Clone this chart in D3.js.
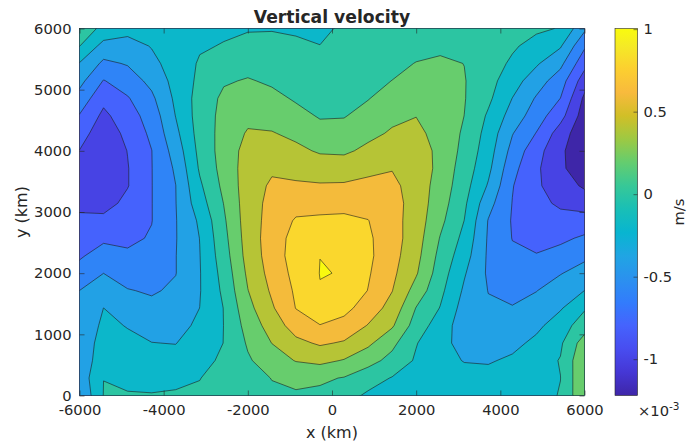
<!DOCTYPE html>
<html>
<head>
<meta charset="utf-8">
<title>Vertical velocity</title>
<style>
  body { margin: 0; background: #fff; }
  text { font-family: "DejaVu Sans", sans-serif; fill: #262626; }
</style>
</head>
<body>
<svg id="chart" width="687" height="444"></svg>
<script src="https://d3js.org/d3.v7.min.js"></script>
<script>

// grid (km)
var xs = [-6000, -5428.6, -4857.1, -4285.7, -3714.3, -3142.9, -2571.4, -2000, -1428.6, -857.1, -285.7,
	285.7, 857.1, 1428.6, 2000, 2571.4, 3142.9, 3714.3, 4285.7, 4857.1, 5428.6, 6000];
var ys = [0, 285.7, 571.4, 857.1, 1142.9, 1428.6, 1714.3, 2000, 2285.7, 2571.4, 2857.1,
	3142.9, 3428.6, 3714.3, 4000, 4285.7, 4571.4, 4857.1, 5142.9, 5428.6, 5714.3, 6000];

// vertical velocity in 1e-3 m/s, one row per y, listed from y = 6000 (top) down to y = 0
var w = [
	[0.12, -0.05, -0.14, -0.08, -0.08, -0.05, -0.03, -0.015, -0.01, -0.02, -0.04, 0.03, 0.06, 0.08, 0.10, 0.10, 0.08, 0.06, 0.05, 0.03, -0.01, -0.36],
	[0.005, -0.27, -0.27, -0.19, -0.11, -0.02, 0.01, 0.055, 0.05, 0.026, 0.003, 0.062, 0.093, 0.12, 0.152, 0.163, 0.13, 0.07, 0.025, -0.063, -0.18, -0.57],
	[-0.21, -0.44, -0.385, -0.25, -0.115, 0.02, 0.11, 0.133, 0.112, 0.078, 0.047, 0.094, 0.126, 0.16, 0.205, 0.23, 0.198, 0.088, -0.03, -0.176, -0.35, -0.733],
	[-0.34, -0.61, -0.5, -0.347, -0.13, 0.042, 0.18, 0.215, 0.173, 0.129, 0.092, 0.126, 0.159, 0.202, 0.269, 0.26, 0.21, 0.072, -0.117, -0.306, -0.507, -0.907],
	[-0.477, -0.748, -0.617, -0.44, -0.16, 0.08, 0.24, 0.279, 0.249, 0.18, 0.137, 0.158, 0.192, 0.283, 0.333, 0.31, 0.21, 0.04, -0.203, -0.42, -0.602, -1.04],
	[-0.613, -0.845, -0.69, -0.515, -0.195, 0.088, 0.26, 0.347, 0.333, 0.256, 0.185, 0.19, 0.267, 0.362, 0.396, 0.32, 0.199, -0.028, -0.283, -0.505, -0.73, -1.1],
	[-0.707, -0.93, -0.745, -0.56, -0.25, 0.079, 0.272, 0.42, 0.41, 0.36, 0.264, 0.27, 0.356, 0.42, 0.45, 0.326, 0.173, -0.074, -0.39, -0.608, -0.896, -1.15],
	[-0.805, -0.96, -0.795, -0.603, -0.315, 0.056, 0.285, 0.47, 0.495, 0.44, 0.38, 0.37, 0.44, 0.516, 0.52, 0.339, 0.147, -0.11, -0.465, -0.73, -0.947, -1.22],
	[-0.9, -0.97, -0.81, -0.605, -0.371, 0.024, 0.275, 0.49, 0.572, 0.533, 0.495, 0.497, 0.555, 0.59, 0.55, 0.332, 0.113, -0.152, -0.538, -0.77, -0.944, -1.19],
	[-0.9, -0.97, -0.81, -0.605, -0.402, -0.032, 0.248, 0.5, 0.63, 0.628, 0.62, 0.624, 0.646, 0.65, 0.508, 0.32, 0.077, -0.22, -0.59, -0.77, -0.903, -1.03],
	[-0.84, -0.88, -0.745, -0.605, -0.405, -0.089, 0.205, 0.504, 0.66, 0.728, 0.741, 0.742, 0.731, 0.68, 0.513, 0.29, 0.037, -0.33, -0.605, -0.747, -0.83, -0.884],
	[-0.765, -0.745, -0.7, -0.605, -0.41, -0.168, 0.17, 0.501, 0.676, 0.82, 0.83, 0.84, 0.805, 0.675, 0.506, 0.248, -0.002, -0.41, -0.615, -0.75, -0.74, -0.717],
	[-0.695, -0.634, -0.64, -0.583, -0.41, -0.197, 0.14, 0.49, 0.699, 0.87, 0.93, 0.9, 0.83, 0.688, 0.49, 0.19, -0.055, -0.423, -0.605, -0.69, -0.64, -0.57],
	[-0.625, -0.518, -0.569, -0.54, -0.405, -0.205, 0.108, 0.473, 0.695, 0.89, 0.999, 0.97, 0.84, 0.672, 0.463, 0.142, -0.113, -0.43, -0.57, -0.585, -0.53, -0.442],
	[-0.522, -0.401, -0.48, -0.48, -0.405, -0.21, 0.07, 0.437, 0.672, 0.86, 1.004, 0.996, 0.82, 0.644, 0.42, 0.099, -0.181, -0.43, -0.5, -0.5, -0.41, -0.322],
	[-0.399, -0.3, -0.39, -0.42, -0.37, -0.21, 0.039, 0.395, 0.63, 0.83, 0.993, 0.95, 0.795, 0.605, 0.32, 0.049, -0.23, -0.405, -0.45, -0.405, -0.302, -0.199],
	[-0.39, -0.199, -0.3, -0.353, -0.306, -0.199, 0.005, 0.337, 0.575, 0.805, 0.89, 0.86, 0.703, 0.531, 0.192, -0.008, -0.28, -0.376, -0.39, -0.328, -0.22, -0.02],
	[-0.385, -0.152, -0.21, -0.26, -0.26, -0.165, 0.002, 0.274, 0.49, 0.69, 0.795, 0.73, 0.59, 0.425, 0.11, -0.1, -0.3, -0.34, -0.33, -0.25, -0.09, 0.1],
	[-0.38, -0.09, -0.152, -0.197, -0.205, -0.105, 0.003, 0.222, 0.403, 0.55, 0.625, 0.58, 0.44, 0.252, 0.01, -0.137, -0.27, -0.28, -0.26, -0.149, -0.03, 0.3],
	[-0.37, -0.055, -0.1, -0.128, -0.134, -0.07, 0.04, 0.177, 0.3, 0.41, 0.45, 0.387, 0.273, 0.136, -0.024, -0.125, -0.21, -0.22, -0.164, -0.085, 0.01, 0.38],
	[-0.33, -0.001, -0.04, -0.05, -0.04, -0.005, 0.08, 0.13, 0.205, 0.24, 0.23, 0.19, 0.08, -0.01, -0.06, -0.09, -0.12, -0.13, -0.1, -0.06, -0.002, 0.39],
	[-0.39, 0.005, 0.013, 0.009, 0.02, 0.03, 0.1, 0.15, 0.17, 0.18, 0.16, 0.07, -0.03, -0.06, -0.09, -0.11, -0.12, -0.12, -0.1, -0.06, 0.01, 0.38]
];

var levels = [-1, -0.8, -0.6, -0.4, -0.2, 0, 0.2, 0.4, 0.6, 0.8, 1];
var xTicks = [-6000, -4000, -2000, 0, 2000, 4000, 6000];
var yTicks = [0, 1000, 2000, 3000, 4000, 5000, 6000];
var cbTicks = [-1, -0.5, 0, 0.5, 1];

// parula colormap, anchors at rows 0,4,...,60,63 of the 64 entry map
var parula = ["#3e26a8", "#4537d5", "#484df0", "#4563fd", "#327cfc", "#2b91ef", "#20a5e3", "#08b5d0",
	"#19bfb6", "#37c897", "#64cd6f", "#9dc943", "#d1bf27", "#f8ba3d", "#fccf30", "#f5ea26", "#f9fb0e"];
var parulaPos = [0, 4, 8, 12, 16, 20, 24, 28, 32, 36, 40, 44, 48, 52, 56, 60, 63].map(function(i) { return i / 63; });

var svg = d3.select("#chart");
var plotL = 79.5, plotR = 584.5, plotT = 28.5, plotB = 395.5;

var x = d3.scaleLinear().domain([-6000, 6000]).range([plotL, plotR]);
var y = d3.scaleLinear().domain([0, 6000]).range([plotB, plotT]);

var nx = xs.length, ny = ys.length;
var values = [].concat.apply([], w);
var zExt = d3.extent(values);

var ramp = d3.scaleLinear().domain(parulaPos).range(parula).interpolate(d3.interpolateRgb);
var color = function(v) { return ramp((v - zExt[0]) / (zExt[1] - zExt[0])); };

// grid index -> km
var ix = d3.scaleLinear().domain([0, nx - 1]).range([xs[0], xs[nx - 1]]);
var iy = d3.scaleLinear().domain([0, ny - 1]).range([ys[ny - 1], ys[0]]);
var proj = d3.geoTransform({
	point: function(px, py) { this.stream.point(x(ix(px - 0.5)), y(iy(py - 0.5))); }
});
var path = d3.geoPath(proj);

var thresholds = [zExt[0]].concat(levels.filter(function(l) { return l > zExt[0] && l < zExt[1]; }));
var contours = d3.contours().size([nx, ny]).thresholds(thresholds)(values);

svg.append("rect").attr("width", 687).attr("height", 444).attr("fill", "#fff");

var defs = svg.append("defs");
defs.append("clipPath").attr("id", "plotClip")
	.append("rect")
	.attr("x", plotL).attr("y", plotT)
	.attr("width", plotR - plotL).attr("height", plotB - plotT);

svg.append("g")
	.attr("clip-path", "url(#plotClip)")
	.selectAll("path")
	.data(contours)
	.join("path")
		.attr("d", path)
		.attr("fill-rule", "evenodd")
		.attr("fill", function(d) { return color(d.value); })
		.attr("stroke", function(d, i) { return i === 0 ? "none" : "#1e1e1e"; })
		.attr("stroke-width", 0.6)
		.attr("stroke-linejoin", "round");

// axes
var fs = 14.7;
function styleAxis(g) {
	g.select(".domain").remove();
	g.selectAll(".tick line").attr("stroke", "#262626").attr("stroke-width", 0.6);
	g.selectAll(".tick text").attr("font-size", fs).attr("fill", "#262626")
		.attr("font-family", "DejaVu Sans, sans-serif")
		.text(function() { return this.textContent.replace("\u2212", "-"); });
}

svg.append("g").attr("transform", "translate(0," + plotB + ")")
	.call(d3.axisBottom(x).tickValues(xTicks).tickSize(-5).tickPadding(9).tickFormat(d3.format("d")))
	.call(styleAxis);
svg.append("g").attr("transform", "translate(0," + plotT + ")")
	.call(d3.axisTop(x).tickValues(xTicks).tickSize(-5).tickFormat(""))
	.call(styleAxis);
svg.append("g").attr("transform", "translate(" + plotL + ",0)")
	.call(d3.axisLeft(y).tickValues(yTicks).tickSize(-5).tickPadding(8).tickFormat(d3.format("d")))
	.call(styleAxis);
svg.append("g").attr("transform", "translate(" + plotR + ",0)")
	.call(d3.axisRight(y).tickValues(yTicks).tickSize(-5).tickFormat(""))
	.call(styleAxis);

svg.append("rect")
	.attr("x", plotL).attr("y", plotT)
	.attr("width", plotR - plotL).attr("height", plotB - plotT)
	.attr("fill", "none").attr("stroke", "#262626").attr("stroke-width", 0.6);

// labels
svg.append("text").attr("x", (plotL + plotR) / 2).attr("y", 23)
	.attr("text-anchor", "middle").attr("font-weight", "bold").attr("font-size", 17.2)
	.text("Vertical velocity");
svg.append("text").attr("x", (plotL + plotR) / 2).attr("y", 438)
	.attr("text-anchor", "middle").attr("font-size", 16)
	.text("x (km)");
svg.append("text")
	.attr("transform", "translate(27," + (plotT + plotB) / 2 + ") rotate(-90)")
	.attr("text-anchor", "middle").attr("font-size", 16)
	.text("y (km)");

// colorbar
var cbX = 615, cbW = 22.5;
var cb = d3.scaleLinear().domain(zExt).range([plotB, plotT]);

var grad = defs.append("linearGradient")
	.attr("id", "parulaGrad")
	.attr("x1", 0).attr("y1", 1).attr("x2", 0).attr("y2", 0);
grad.selectAll("stop")
	.data(parula)
	.join("stop")
		.attr("offset", function(d, i) { return parulaPos[i]; })
		.attr("stop-color", function(d) { return d; });

svg.append("rect")
	.attr("x", cbX).attr("y", plotT)
	.attr("width", cbW).attr("height", plotB - plotT)
	.attr("fill", "url(#parulaGrad)")
	.attr("stroke", "#262626").attr("stroke-width", 0.6);

svg.append("g").attr("transform", "translate(" + (cbX + cbW) + ",0)")
	.call(d3.axisRight(cb).tickValues(cbTicks).tickSize(-4).tickPadding(6).tickFormat(d3.format("")))
	.call(styleAxis);

svg.append("text")
	.attr("transform", "translate(678," + (plotT + plotB) / 2 + ") rotate(-90)")
	.attr("text-anchor", "middle").attr("dominant-baseline", "central").attr("font-size", fs)
	.text("m/s");

var expo = svg.append("text").attr("x", 638).attr("y", 416).attr("font-size", fs);
expo.append("tspan").text("\u00d710");
expo.append("tspan").attr("font-size", 10.5).attr("dy", -6).text("-3");

</script>
</body>
</html>
